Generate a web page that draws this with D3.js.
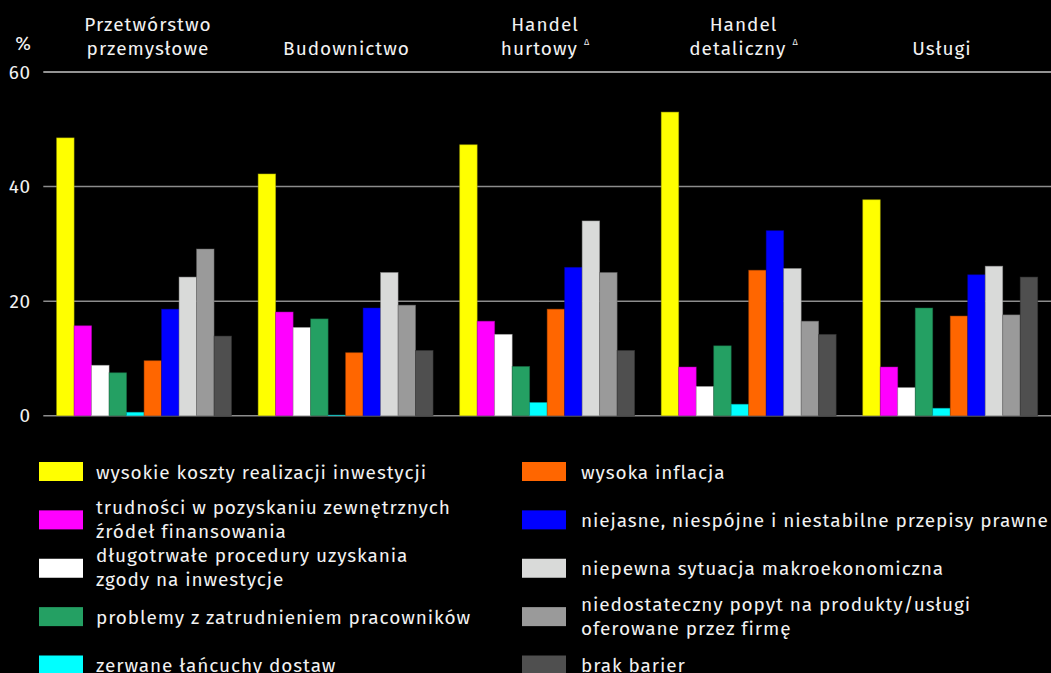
<!DOCTYPE html>
<html>
<head>
<meta charset="utf-8">
<script src="https://cdn.jsdelivr.net/npm/d3@7"></script>
<style>
  body { margin: 0; background: #000; }
  svg text { font-family: "Fira Sans", "Noto Sans", "Open Sans", sans-serif; fill: #f2f2f2; }
</style>
</head>
<body>
<div id="chart"></div>
<script>
// Sektory (nagłówki grup)
const sektory = [
  ["Przetwórstwo", "przemysłowe"],
  ["Budownictwo"],
  ["Handel", "hurtowy"],
  ["Handel", "detaliczny"],
  ["Usługi"]
];
const delta = [false, false, true, true, false];

// Bariery – etykiety legendy
const bariery = [
  ["wysokie koszty realizacji inwestycji"],
  ["trudności w pozyskaniu zewnętrznych", "źródeł finansowania"],
  ["długotrwałe procedury uzyskania", "zgody na inwestycje"],
  ["problemy z zatrudnieniem pracowników"],
  ["zerwane łańcuchy dostaw"],
  ["wysoka inflacja"],
  ["niejasne, niespójne i niestabilne przepisy prawne"],
  ["niepewna sytuacja makroekonomiczna"],
  ["niedostateczny popyt na produkty/usługi", "oferowane przez firmę"],
  ["brak barier"]
];
const kolory = ["#ffff00", "#ff00ff", "#ffffff", "#24a063", "#00ffff",
                "#ff6600", "#0000ff", "#d9dad9", "#9a9a9a", "#4f4f4f"];

// Wartości (%) – kolejno dla 5 sektorów
const wysokieKoszty   = [48.5, 42.2, 47.3, 53.0, 37.7];
const trudnosciFin    = [15.7, 18.1, 16.5, 8.5, 8.5];
const procedury       = [8.8, 15.4, 14.2, 5.1, 4.9];
const zatrudnienie    = [7.5, 16.9, 8.6, 12.2, 18.8];
const lancuchy        = [0.6, 0.1, 2.3, 2.0, 1.3];
const inflacja        = [9.6, 11.0, 18.6, 25.4, 17.4];
const przepisy        = [18.6, 18.8, 25.9, 32.3, 24.6];
const makro           = [24.2, 25.0, 34.0, 25.7, 26.1];
const popyt           = [29.1, 19.3, 25.0, 16.5, 17.6];
const brakBarier      = [13.9, 11.4, 11.4, 14.2, 24.2];
const serie = [wysokieKoszty, trudnosciFin, procedury, zatrudnienie, lancuchy,
               inflacja, przepisy, makro, popyt, brakBarier];

const yTicks = [0, 20, 40, 60];

const W = 1051, H = 673;
const svg = d3.select("#chart").append("svg")
  .attr("width", W).attr("height", H)
  .style("background", "#000");

// Skale
const x0 = d3.scaleBand()
  .domain(d3.range(sektory.length))
  .range([43.3, 1051])
  .paddingInner(0.132)
  .paddingOuter(0.066);
const x1 = d3.scaleBand()
  .domain(d3.range(serie.length))
  .range([0, x0.bandwidth()]);
const y = d3.scaleLinear().domain([0, 60]).range([415.7, 72]);
// nagłówki nie są dokładnie nad środkami grup
const xHead = d3.scalePoint()
  .domain(d3.range(sektory.length))
  .range([148, 942]);

// Linie siatki
svg.append("g").selectAll("line")
  .data(yTicks)
  .join("line")
    .attr("x1", 43.3).attr("x2", W)
    .attr("y1", d => y(d)).attr("y2", d => y(d))
    .attr("stroke", d => d === 60 ? "#c4c4c4" : "#8c8c8c")
    .attr("stroke-width", 1.5);

// Etykiety osi Y
svg.append("g").selectAll("text")
  .data(yTicks)
  .join("text")
    .attr("x", 31).attr("y", d => y(d))
    .attr("dy", "0.35em")
    .attr("text-anchor", "end")
    .style("font-size", "19px")
    .style("letter-spacing", "0.8px")
    .text(d => d);
svg.append("text")
  .attr("x", 23).attr("y", 50)
  .attr("text-anchor", "middle")
  .style("font-size", "19px")
  .text("%");

// Słupki
const grupy = svg.append("g").selectAll("g")
  .data(sektory.map((s, i) => i))
  .join("g")
    .attr("transform", i => `translate(${x0(i)},0)`);
grupy.selectAll("rect")
  .data(i => serie.map((s, k) => ({ k, v: s[i] })))
  .join("rect")
    .attr("x", d => x1(d.k))
    .attr("width", x1.bandwidth())
    .attr("y", d => y(d.v))
    .attr("height", d => y(0) - y(d.v))
    .attr("fill", d => kolory[d.k])
    .attr("stroke", d => d3.color(kolory[d.k]).darker(1.2))
    .attr("stroke-opacity", 0.6)
    .attr("stroke-width", 0.8);

// Nagłówki sektorów
const naglowki = svg.append("g").selectAll("text")
  .data(sektory)
  .join("text")
    .attr("text-anchor", "middle")
    .style("font-size", "19px")
    .style("letter-spacing", "1px");
naglowki.each(function(lines, i) {
  const t = d3.select(this);
  lines.forEach((l, j) => {
    t.append("tspan")
      .attr("x", xHead(i))
      .attr("y", 55 - (lines.length - 1 - j) * 24)
      .text(l);
  });
  if (delta[i]) {
    t.append("tspan").text(" ");
    t.append("tspan")
      .attr("dy", -10.5)
      .style("font-size", "9px")
      .style("letter-spacing", "0px")
      .text("\u0394");
  }
});

// Legenda
const rowY = d3.scalePoint().domain(d3.range(5)).range([471.5, 665]);
const legenda = svg.append("g").selectAll("g")
  .data(bariery.map((b, k) => k))
  .join("g")
    .attr("transform", k => k < 5
      ? `translate(39,${rowY(k)})`
      : `translate(522,${rowY(k - 5)})`);
legenda.append("rect")
  .attr("x", 0).attr("y", -9.5)
  .attr("width", 44).attr("height", 19)
  .attr("fill", k => kolory[k]);
legenda.append("text")
  .style("font-size", "19px")
  .style("letter-spacing", "0.9px")
  .each(function(k) {
    const lines = bariery[k];
    const t = d3.select(this);
    const tx = k < 5 ? 57 : 59;
    lines.forEach((l, j) => {
      t.append("tspan")
        .attr("x", tx)
        .attr("y", (lines.length > 1 ? -6 : 7) + j * 24)
        .text(l);
    });
  });
</script>
</body>
</html>
